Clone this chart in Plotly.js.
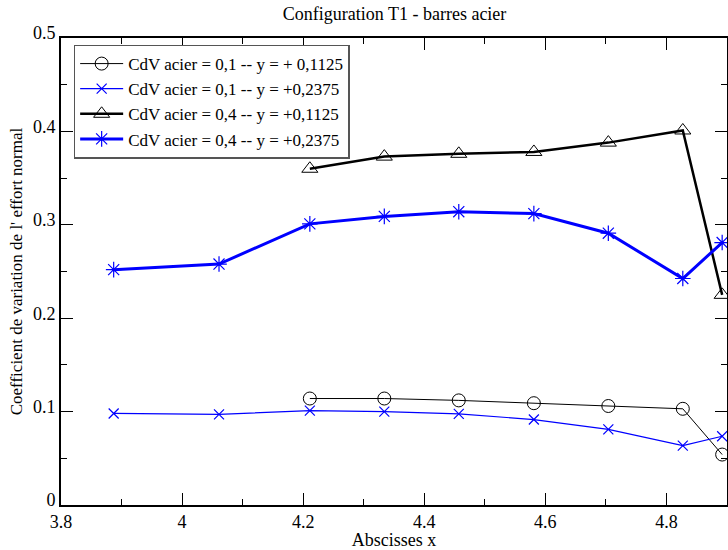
<!DOCTYPE html>
<html>
<head>
<meta charset="utf-8">
<script src="https://cdn.plot.ly/plotly-3.0.1.min.js"></script>
<style>html,body{margin:0;padding:0;background:#fff;}#chart{width:728px;height:550px;}</style>
</head>
<body>
<div id="chart"></div>
<script>
const xAll = [3.887, 4.061, 4.211, 4.334, 4.457, 4.581, 4.704, 4.827, 4.892];
const xPart = [4.211, 4.334, 4.457, 4.581, 4.704, 4.827, 4.892];
const circValues = [0.114, 0.114, 0.112, 0.109, 0.106, 0.103, 0.054];
const crossValues = [0.098, 0.097, 0.101, 0.100, 0.0975, 0.0915, 0.081, 0.0636, 0.0736];
const triValues = [0.360, 0.373, 0.376, 0.378, 0.388, 0.401, 0.225];
const starValues = [0.252, 0.258, 0.301, 0.309, 0.314, 0.312, 0.291, 0.2425, 0.281];
const seriesNames = [
  "CdV acier = 0,1 -- y = + 0,1125",
  "CdV acier = 0,1 -- y = +0,2375",
  "CdV acier = 0,4 -- y = +0,1125",
  "CdV acier = 0,4 -- y = +0,2375"
];
const xTickVals = [3.8, 4, 4.2, 4.4, 4.6, 4.8];
const xTickText = ["3.8", "4", "4.2", "4.4", "4.6", "4.8"];
const yTickVals = [0, 0.1, 0.2, 0.3, 0.4, 0.5];
const yTickText = ["0", "0.1", "0.2", "0.3", "0.4", "0.5"];

const serif = "Liberation Serif, Times New Roman, serif";

const traces = [
  {x: xPart, y: circValues, name: seriesNames[0], mode: "lines+markers",
   line: {color: "#000", width: 1},
   marker: {symbol: "circle-open", size: 13, color: "#000", line: {width: 1, color: "#000"}}},
  {x: xAll, y: crossValues, name: seriesNames[1], mode: "lines+markers",
   line: {color: "#0000ff", width: 1.2},
   marker: {symbol: "x-thin-open", size: 10, color: "#0000ff", line: {width: 1.2, color: "#0000ff"}}},
  {x: xPart, y: triValues, name: seriesNames[2], mode: "lines+markers",
   line: {color: "#000", width: 2.5},
   marker: {symbol: "triangle-up-open", size: 14, color: "#000", line: {width: 1, color: "#000"}}},
  {x: xAll, y: starValues, name: seriesNames[3], mode: "lines+markers",
   line: {color: "#0000ff", width: 3},
   marker: {symbol: "asterisk-open", size: 13, color: "#0000ff", line: {width: 1.2, color: "#0000ff"}}}
];

const layout = {
  width: 728, height: 550,
  margin: {l: 61, r: 1, t: 38, b: 45, pad: 0},
  paper_bgcolor: "#fff", plot_bgcolor: "#fff",
  font: {family: serif, size: 18, color: "#000"},
  showlegend: true,
  title: {text: "Configuration T1 - barres acier", font: {family: serif, size: 18, color: "#000"},
          x: 0.542, xanchor: "center", y: 0.975, yanchor: "middle"},
  xaxis: {
    range: [3.8, 4.9], tickvals: xTickVals, ticktext: xTickText,
    ticks: "inside", ticklen: 12, tickwidth: 1, tickcolor: "#000",
    minor: {ticks: "inside", ticklen: 6, dtick: 0.1, tick0: 3.8, tickcolor: "#000", tickwidth: 1, showgrid: false},
    showline: true, linecolor: "#000", linewidth: 2, mirror: "allticks",
    showgrid: false, zeroline: false,
    ticklabelstandoff: -1,
    tickfont: {family: serif, size: 18, color: "#000"},
    title: {text: "Abscisses x", font: {family: serif, size: 18, color: "#000"}, standoff: 0}
  },
  yaxis: {
    range: [0, 0.5], tickvals: yTickVals, ticktext: yTickText,
    ticks: "inside", ticklen: 12, tickwidth: 1, tickcolor: "#000",
    minor: {ticks: "inside", ticklen: 6, dtick: 0.05, tick0: 0, tickcolor: "#000", tickwidth: 1, showgrid: false},
    showline: true, linecolor: "#000", linewidth: 2, mirror: "allticks",
    showgrid: false, zeroline: false,
    ticklabelshift: -5,
    tickfont: {family: serif, size: 18, color: "#000"},
    title: {text: "Coefficient de variation de l' effort normal", font: {family: serif, size: 17, color: "#000"}, standoff: 6}
  },
  legend: {
    x: 0.019, y: 0.986, xanchor: "left", yanchor: "top",
    bgcolor: "#fff", bordercolor: "#555", borderwidth: 1.5,
    font: {family: serif, size: 17, color: "#000"},
    itemwidth: 43,
    tracegroupgap: 0
  }
};

Plotly.newPlot("chart", traces, layout, {displayModeBar: false, staticPlot: true});
</script>
</body>
</html>
